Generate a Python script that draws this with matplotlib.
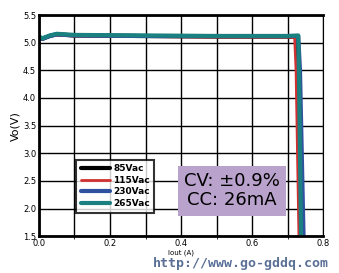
import matplotlib
matplotlib.use("Agg")
import matplotlib.pyplot as plt

labels = ["85Vac", "115Vac", "230Vac", "265Vac"]
colors = ["#000000", "#d03030", "#3050a0", "#1a8080"]
x85 = [0.0, 0.01, 0.03, 0.05, 0.1, 0.3, 0.5, 0.7, 0.725, 0.728, 0.732, 0.736]
y85 = [5.10, 5.07, 5.12, 5.15, 5.13, 5.12, 5.11, 5.11, 5.10, 4.5, 3.0, 1.5]
x115 = [0.0, 0.01, 0.03, 0.05, 0.1, 0.3, 0.5, 0.7, 0.72, 0.724, 0.728, 0.732]
y115 = [5.10, 5.07, 5.12, 5.14, 5.12, 5.11, 5.10, 5.10, 5.09, 4.5, 3.0, 1.5]
x230 = [0.0, 0.01, 0.03, 0.05, 0.1, 0.3, 0.5, 0.7, 0.73, 0.735, 0.74, 0.745]
y230 = [5.10, 5.07, 5.12, 5.15, 5.13, 5.12, 5.12, 5.12, 5.12, 4.5, 3.0, 1.5]
x265 = [0.0, 0.01, 0.03, 0.05, 0.1, 0.3, 0.5, 0.7, 0.73, 0.732, 0.735, 0.738]
y265 = [5.11, 5.08, 5.13, 5.16, 5.14, 5.13, 5.12, 5.12, 5.13, 4.5, 3.0, 1.5]
series = [(x85, y85), (x115, y115), (x230, y230), (x265, y265)]
widths = [3.0, 2.0, 3.0, 3.0]

fig = plt.figure(figsize=(3.39, 2.73), dpi=100)
ax = fig.add_axes([0.115, 0.135, 0.838, 0.81])
for (xs, ys), c, lab, w in zip(series, colors, labels, widths):
    ax.plot(xs, ys, color=c, lw=w, label=lab, solid_capstyle="round")

ax.set_xlim(0, 0.8)
ax.set_ylim(1.5, 5.5)
ax.set_xticks([0.0, 0.2, 0.4, 0.6, 0.8])
ax.set_xticks([0.1, 0.3, 0.5, 0.7], minor=True)
ax.set_yticks([1.5, 2.0, 2.5, 3.0, 3.5, 4.0, 4.5, 5.0, 5.5])
ax.grid(True, which="both", color="black", lw=1.0)
ax.set_axisbelow(True)
ax.tick_params(labelsize=6, length=0, pad=2)
for s in ["left", "bottom", "top"]:
    ax.spines[s].set_linewidth(2.0)
ax.spines["right"].set_linewidth(0.8)
ax.set_ylabel("Vo(V)", fontsize=8, labelpad=2)
ax.set_xlabel("Iout (A)", fontsize=5, labelpad=1)

leg = ax.legend(loc="upper left", bbox_to_anchor=(0.115, 0.367), fontsize=6.5,
                frameon=True, fancybox=False, edgecolor="black", handlelength=3.2,
                handletextpad=0.4, labelspacing=0.3, borderpad=0.5)
leg.get_frame().set_linewidth(1.5)
for t in leg.get_texts():
    t.set_fontweight("bold")

ax.text(0.68, 0.206, "CV: \u00b10.9%\nCC: 26mA", transform=ax.transAxes,
        ha="center", va="center", fontsize=13, linespacing=1.1,
        bbox=dict(boxstyle="square,pad=0.35", fc="#b9a2cc", ec="none"))

fig.text(0.71, 0.035, "http://www.go-gddq.com", ha="center", va="center",
         fontsize=9.5, color="#5a7096", fontweight="bold", family="DejaVu Sans Mono")

fig.savefig("out.png", dpi=100)
